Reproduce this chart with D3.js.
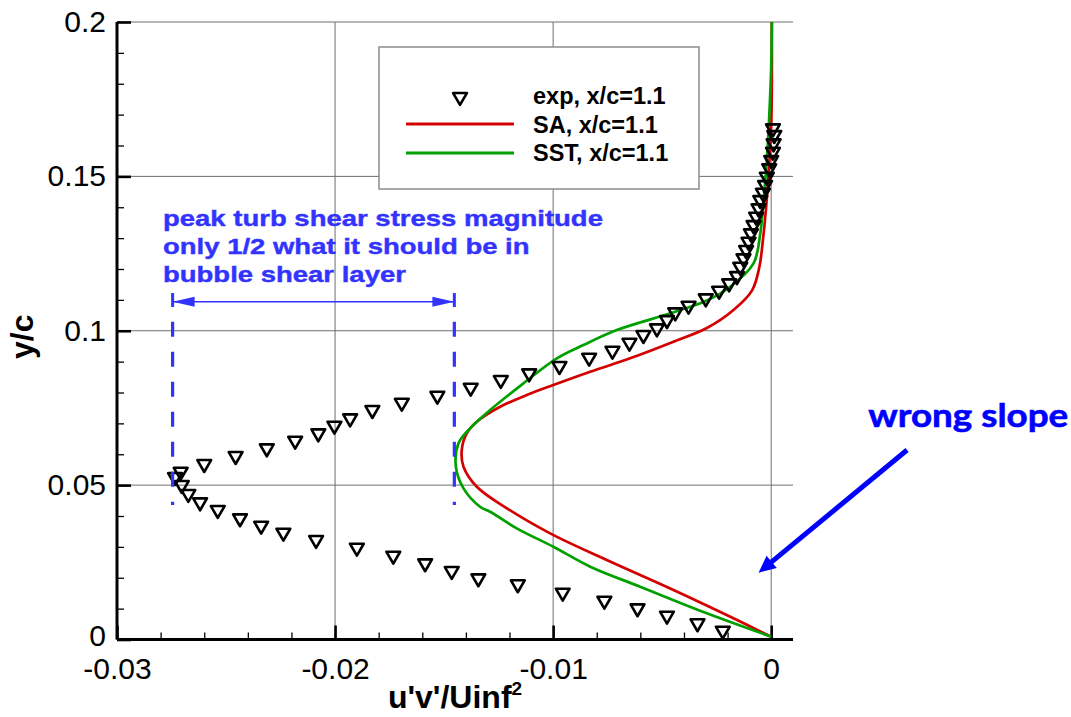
<!DOCTYPE html>
<html>
<head>
<meta charset="utf-8">
<script src="https://cdn.jsdelivr.net/npm/d3@7"></script>
<style>
  body { margin: 0; background: #fff; }
  svg { display: block; font-family: "Liberation Sans", Arial, sans-serif; }
</style>
</head>
<body>
<div id="chart"></div>
<script>
const expX = [-0.00222,-0.00338,-0.00478,-0.00613,-0.00765,-0.00956,-0.01162,-0.01343,-0.01465,-0.01587,
  -0.01733,-0.01900,-0.02087,-0.02237,-0.02339,-0.02436,-0.02538,-0.02619,-0.02673,-0.02703,
  -0.02734,-0.02708,-0.02600,-0.02456,-0.02313,-0.02183,-0.02077,-0.02003,-0.01931,-0.01829,
  -0.01694,-0.01531,-0.01378,-0.01240,-0.01110,-0.00971,-0.00835,-0.00728,-0.00650,-0.00586,
  -0.00524,-0.00478,-0.00440,-0.00379,-0.00300,-0.00239,-0.00193,-0.00157,-0.00142,-0.00127,
  -0.00115,-0.00104,-0.00093,-0.00081,-0.00069,-0.00058,-0.00050,-0.00038,-0.00028,-0.00020,
  -0.00009,0.00000,0.00008,0.00011,0.00014,0.00008];
const expY = [0.00285,0.00525,0.00771,0.0101,0.01256,0.01516,0.01788,0.01982,0.02218,0.02468,
  0.02714,0.02973,0.03222,0.03459,0.03685,0.03925,0.04194,0.04443,0.04712,0.05003,
  0.05262,0.05434,0.05683,0.05942,0.06192,0.06438,0.06678,0.06924,0.07163,0.07432,
  0.07668,0.07895,0.08154,0.08404,0.0862,0.08857,0.09126,0.09352,0.09611,0.09861,
  0.10078,0.10346,0.10596,0.1081,0.11049,0.11295,0.11535,0.11771,0.12073,0.12345,
  0.12614,0.12882,0.13154,0.13423,0.13692,0.13964,0.14233,0.14469,0.14718,0.14987,
  0.15259,0.15528,0.15797,0.16069,0.16338,0.16555];

// SA model
const saX = [0,-0.00173,-0.00448,-0.00754,-0.01014,-0.01212,-0.0135,-0.01411,-0.01419,-0.01396,
  -0.0135,-0.01243,-0.01121,-0.00999,-0.0083,-0.00647,-0.00448,-0.00295,-0.00173,-0.00087,
  -0.00054,-0.00038,-0.00023,-0.00008,0,0.00003,0.00003];
const saY = [0.0009,0.00687,0.01603,0.02575,0.03439,0.04249,0.04948,0.05596,0.06137,0.06677,
  0.07053,0.07539,0.07918,0.08242,0.08672,0.09106,0.09644,0.10087,0.1067,0.11318,
  0.12073,0.12937,0.14016,0.15528,0.16606,0.18021,0.2];

// SST model
const sstX = [0,-0.00295,-0.00601,-0.0083,-0.00999,-0.01167,-0.01289,-0.01335,-0.01411,-0.01446,
  -0.01434,-0.01381,-0.01289,-0.01136,-0.00983,-0.00861,-0.00708,-0.00463,-0.00295,-0.00188,
  -0.00081,-0.0005,-0.00035,-0.0002,-0.00009,0,0.00003];
const sstY = [0.0009,0.00848,0.0171,0.02358,0.03005,0.03601,0.04139,0.04301,0.04896,0.05596,
  0.06354,0.06839,0.07432,0.08297,0.09106,0.09537,0.10023,0.10564,0.10978,0.11425,
  0.12183,0.13154,0.14233,0.15528,0.1693,0.18549,0.2];

const xTicks = [-0.03, -0.02, -0.01, 0];
const xTickLabels = ["-0.03", "-0.02", "-0.01", "0"];
const yTicks = [0, 0.05, 0.1, 0.15, 0.2];
const yTickLabels = ["0", "0.05", "0.1", "0.15", "0.2"];
const legendLabels = ["exp, x/c=1.1", "SA, x/c=1.1", "SST, x/c=1.1"];
const noteLines = ["peak turb shear stress magnitude", "only 1/2 what it should be in", "bubble shear layer"];

const width = 1071, height = 717;
const blue = "#3333ff";

const svg = d3.select("#chart").append("svg")
    .attr("width", width)
    .attr("height", height);

const x = d3.scaleLinear().domain([-0.03, 0.001]).range([117, 793]);
const y = d3.scaleLinear().domain([0, 0.2]).range([639.5, 22]);

// grid
const grid = svg.append("g").attr("stroke", "#6e6e6e").attr("stroke-width", 1);
grid.selectAll(".vg").data(xTicks.slice(1))
    .join("line")
    .attr("x1", d => x(d)).attr("x2", d => x(d))
    .attr("y1", y(0)).attr("y2", y(0.2));
grid.selectAll(".hg").data(yTicks.slice(1))
    .join("line")
    .attr("x1", x(-0.03)).attr("x2", x(0.001))
    .attr("y1", d => y(d)).attr("y2", d => y(d));

// minor ticks
const xMinor = d3.range(-0.03, 0.0001, 0.002).filter(v => Math.abs(v * 100 - Math.round(v * 100)) > 1e-6);
const yMinor = d3.range(0, 0.2001, 0.01).filter(v => Math.abs(v * 20 - Math.round(v * 20)) > 1e-6);

const xAxisMinor = svg.append("g")
    .attr("transform", `translate(0,${y(0)})`)
    .call(d3.axisBottom(x).tickValues(xMinor).tickSize(-7).tickFormat(""));
const yAxisMinor = svg.append("g")
    .attr("transform", `translate(${x(-0.03)},0)`)
    .call(d3.axisLeft(y).tickValues(yMinor).tickSize(-7).tickFormat(""));
[xAxisMinor, yAxisMinor].forEach(g => {
    g.select(".domain").remove();
    g.selectAll(".tick line").attr("stroke", "#000").attr("stroke-width", 1.3);
});

// major axes
const xAxis = svg.append("g")
    .attr("transform", `translate(0,${y(0)})`)
    .call(d3.axisBottom(x).tickValues(xTicks).tickSize(-14).tickPadding(18)
        .tickFormat((d, i) => xTickLabels[i]));
const yAxis = svg.append("g")
    .attr("transform", `translate(${x(-0.03)},0)`)
    .call(d3.axisLeft(y).tickValues(yTicks).tickSize(-14).tickPadding(11)
        .tickFormat((d, i) => yTickLabels[i]));
[xAxis, yAxis].forEach(g => {
    g.select(".domain").attr("stroke", "#000").attr("stroke-width", 3);
    g.selectAll(".tick line").attr("stroke", "#000").attr("stroke-width", 2.6);
    g.selectAll(".tick text")
        .attr("fill", "#000")
        .style("font-size", "30px")
        .style("font-family", "'Liberation Sans', Arial, sans-serif");
});
xAxis.select(".domain").attr("d", `M${x(-0.03)},0H${x(0.001)}`);
yAxis.select(".domain").attr("d", `M0,${y(0)}V${y(0.2)}`);
// the "0" on the y axis sits a little above the corner, clear of "-0.03"
yAxis.selectAll(".tick text").filter(d => d === 0).attr("dy", "0.2em");

// axis titles
const xTitle = svg.append("text")
    .attr("x", 455)
    .attr("y", 708)
    .attr("text-anchor", "middle")
    .style("font-size", "32px")
    .style("font-weight", "bold");
xTitle.append("tspan").text("u'v'/Uinf");
xTitle.append("tspan").attr("dy", -13).style("font-size", "19px").text("2");

svg.append("text")
    .attr("transform", `translate(33,${(y(0) + y(0.2)) / 2 + 6}) rotate(-90)`)
    .attr("text-anchor", "middle")
    .style("font-size", "32px")
    .style("font-weight", "bold")
    .text("y/c");

// model curves
const line = d3.line().x(d => x(d[0])).y(d => y(d[1])).curve(d3.curveCatmullRom.alpha(0.5));
const series = [
    { xs: saX, ys: saY, color: "#d40000" },
    { xs: sstX, ys: sstY, color: "#00a000" }
];
svg.append("g").selectAll("path")
    .data(series)
    .join("path")
    .attr("d", s => line(s.xs.map((v, i) => [v, s.ys[i]])))
    .attr("fill", "none")
    .attr("stroke", s => s.color)
    .attr("stroke-width", 2.7);

// experiment symbols
const tri = d3.symbol(d3.symbolTriangle).size(82);
svg.append("g").selectAll("path")
    .data(expX.map((v, i) => [v, expY[i]]))
    .join("path")
    .attr("d", tri)
    .attr("transform", d => `translate(${x(d[0])},${y(d[1])}) rotate(180)`)
    .attr("fill", "none")
    .attr("stroke", "#000")
    .attr("stroke-width", 2.6)
    .attr("stroke-linejoin", "round");

// legend
const legend = svg.append("g");
legend.append("rect")
    .attr("x", 379).attr("y", 47)
    .attr("width", 320).attr("height", 142)
    .attr("fill", "#fff")
    .attr("stroke", "#8c8c8c")
    .attr("stroke-width", 1.5);
legend.append("path")
    .attr("d", tri)
    .attr("transform", "translate(460,97) rotate(180)")
    .attr("fill", "none").attr("stroke", "#000").attr("stroke-width", 2.6)
    .attr("stroke-linejoin", "round");
legend.append("line").attr("x1", 406).attr("x2", 514).attr("y1", 124).attr("y2", 124)
    .attr("stroke", series[0].color).attr("stroke-width", 3);
legend.append("line").attr("x1", 406).attr("x2", 514).attr("y1", 153).attr("y2", 153)
    .attr("stroke", series[1].color).attr("stroke-width", 3);
legend.selectAll(".lbl").data(legendLabels)
    .join("text")
    .attr("x", 533)
    .attr("y", (d, i) => 104 + i * 28.7)
    .style("font-size", "23.5px")
    .style("font-weight", "bold")
    .text(d => d);

// blue note + dimension arrow
const note = svg.append("g").attr("transform", "translate(163,226) scale(1.25,1)");
note.selectAll("text").data(noteLines)
    .join("text")
    .attr("x", 0)
    .attr("y", (d, i) => i * 27.8)
    .attr("fill", blue)
    .attr("stroke", blue)
    .attr("stroke-width", 0.4)
    .style("font-size", "22px")
    .style("font-weight", "bold")
    .text(d => d);

const dimL = -0.02745, dimR = -0.01453, dimY = 0.1094;
svg.append("line")
    .attr("x1", x(dimL)).attr("x2", x(dimR))
    .attr("y1", y(dimY)).attr("y2", y(dimY))
    .attr("stroke", blue).attr("stroke-width", 1.3);
[[dimL, 1], [dimR, -1]].forEach(([v, dir]) => {
    const px = x(v), py = y(dimY);
    svg.append("path")
        .attr("d", `M${px},${py}L${px + dir * 22},${py - 5}L${px + dir * 22},${py + 5}Z`)
        .attr("fill", blue);
    svg.append("line")
        .attr("x1", px).attr("x2", px)
        .attr("y1", y(0.1122)).attr("y2", y(0.1077))
        .attr("stroke", blue).attr("stroke-width", 3);
    svg.append("line")
        .attr("x1", px).attr("x2", px)
        .attr("y1", y(0.1029)).attr("y2", y(0.0436))
        .attr("stroke", blue).attr("stroke-width", 3.2)
        .attr("stroke-dasharray", "15,15");
});

// "wrong slope" callout
const arrowFrom = [0.00623, 0.06137], arrowTo = [-0.00058, 0.02163];
const ax0 = x(arrowFrom[0]), ay0 = y(arrowFrom[1]);
const ax1 = x(arrowTo[0]), ay1 = y(arrowTo[1]);
const len = Math.hypot(ax1 - ax0, ay1 - ay0);
const ux = (ax1 - ax0) / len, uy = (ay1 - ay0) / len;
const headLen = 17, headW = 8;
const bx = ax1 - ux * headLen, by = ay1 - uy * headLen;
svg.append("line")
    .attr("x1", ax0).attr("y1", ay0)
    .attr("x2", bx + ux * 2).attr("y2", by + uy * 2)
    .attr("stroke", "#0000ff").attr("stroke-width", 5);
svg.append("path")
    .attr("d", `M${ax1},${ay1}L${bx - uy * headW},${by + ux * headW}L${bx + uy * headW},${by - ux * headW}Z`)
    .attr("fill", "#0000ff");
svg.append("text")
    .attr("x", x(0.00445))
    .attr("y", y(0.0688))
    .attr("fill", "#0000ff")
    .attr("stroke", "#0000ff")
    .attr("stroke-width", 0.6)
    .attr("textLength", 200)
    .attr("lengthAdjust", "spacingAndGlyphs")
    .style("font-family", "Lato, 'Open Sans', sans-serif")
    .style("font-size", "33px")
    .style("font-weight", "bold")
    .text("wrong slope");
</script>
</body>
</html>
